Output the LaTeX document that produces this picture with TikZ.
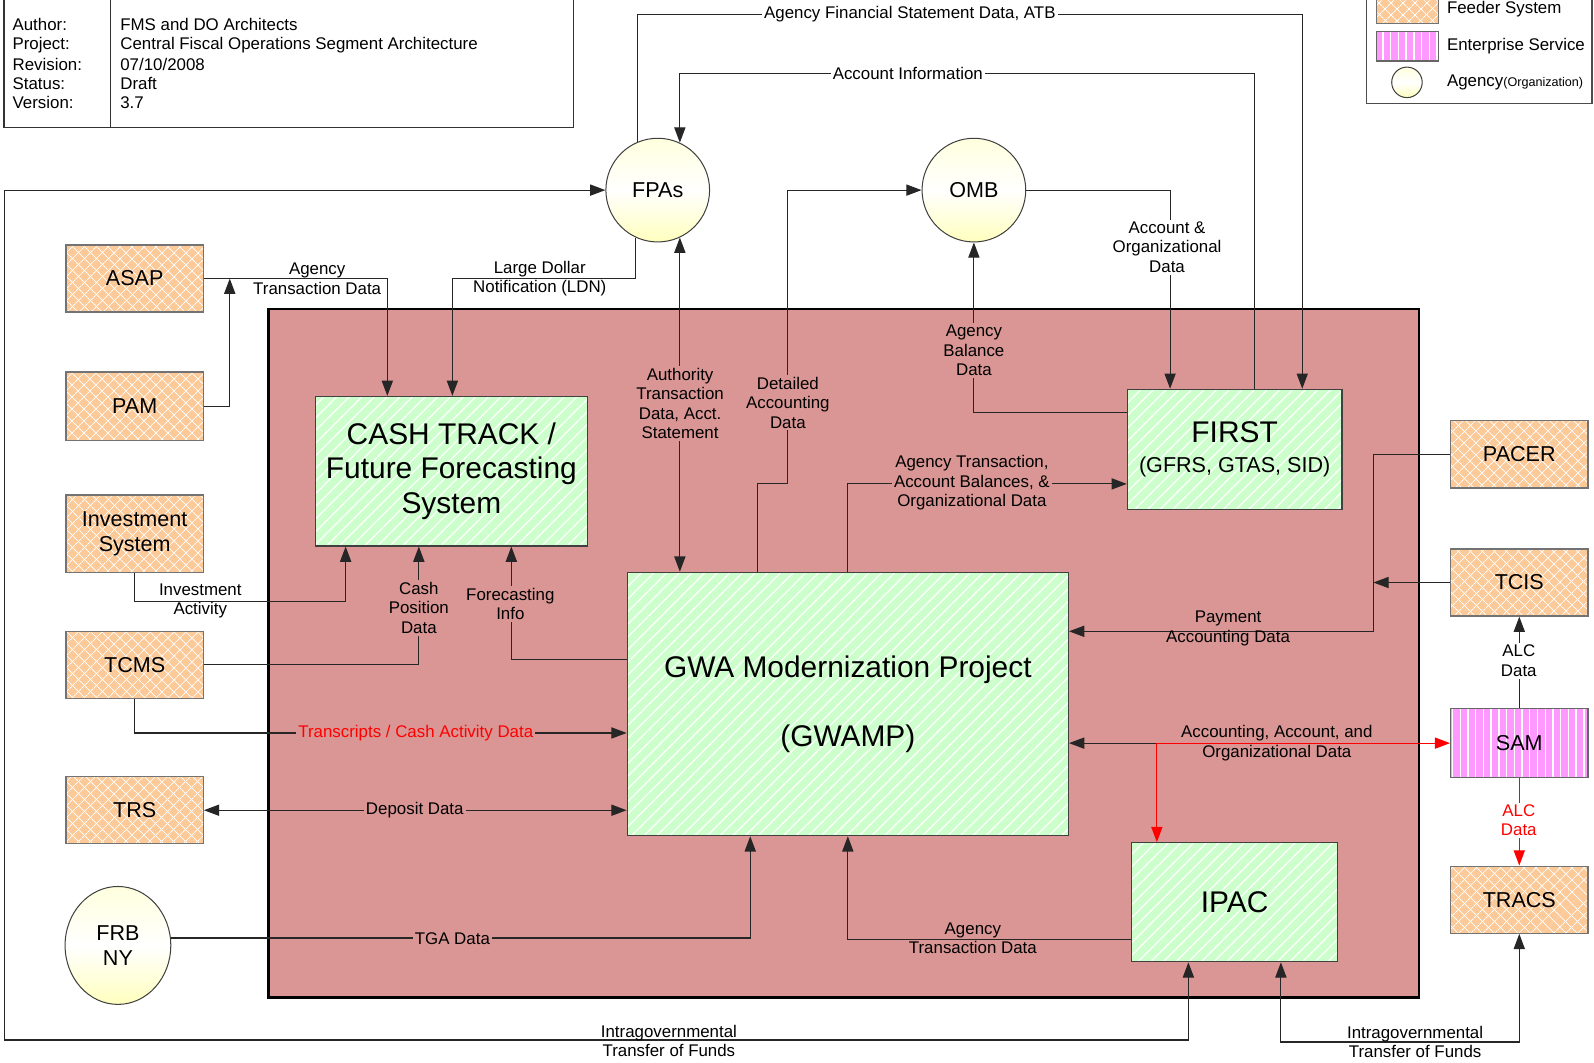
\documentclass[tikz,border=0pt]{standalone}
\usepackage{fontspec}
\setmainfont{Liberation Sans}
\usetikzlibrary{arrows.meta,patterns.meta,shapes.geometric,calc}

\definecolor{brownbg}{RGB}{217,150,148}
\definecolor{feederc}{RGB}{252,201,152}
\definecolor{greenc}{RGB}{204,255,204}
\definecolor{pinkc}{RGB}{255,153,255}
\definecolor{lred}{RGB}{255,0,0}

\newcommand\lblfont{\fontsize{8.3}{9.6}\selectfont}
\newcommand\sysfont{\fontsize{10.6}{12}\selectfont}
\newcommand\bigfont{\fontsize{14.7}{17}\selectfont}

\begin{document}
\begin{tikzpicture}[x=0.5pt,y=-0.5pt,
  >={Triangle[length=7.5pt,width=5.5pt]},
  conn/.style={draw=black!85,line width=0.55pt},
  redconn/.style={draw=lred,line width=0.55pt},
  feeder/.style={draw=black!55,line width=0.6pt,fill=feederc,
    postaction={pattern={Lines[angle=45,distance=4pt,line width=0.45pt]},pattern color=white},
    postaction={pattern={Lines[angle=-45,distance=4pt,line width=0.45pt]},pattern color=white},
    postaction={draw=black!55,line width=0.6pt},
    minimum width=67.5pt,minimum height=33pt,inner sep=0pt,font=\sysfont,align=center},
  ent/.style={draw=black!60,line width=0.6pt,fill=pinkc,
    postaction={pattern={Lines[angle=90,distance=3.8pt,line width=0.7pt]},pattern color=white},
    postaction={draw=black!60,line width=0.6pt},
    minimum width=67.5pt,minimum height=34pt,inner sep=0pt,font=\sysfont,align=center},
  gbox/.style={draw=black!75,line width=0.6pt,fill=greenc,
    postaction={pattern={Lines[angle=45,distance=4.4pt,line width=0.6pt]},pattern color=white},
    postaction={draw=black!75,line width=0.6pt},
    inner sep=0pt,font=\bigfont,align=center},
  agency/.style={circle,draw=black!75,line width=0.5pt,
    top color={rgb,255:red,255;green,255;blue,222},
    bottom color={rgb,255:red,255;green,255;blue,190},
    middle color=white,
    minimum size=51pt,inner sep=0pt,font=\sysfont,align=center},
  lbl/.style={font=\lblfont,align=center,inner sep=1pt},
  lblb/.style={lbl,fill=brownbg},
  lblw/.style={lbl,fill=white},
  tt/.style={font=\lblfont,inner sep=0pt,anchor=west}
]
\useasboundingbox (0,0) rectangle (1568,1045);

% title block
\node[draw=black!80,line width=0.6pt,minimum width=280pt,minimum height=63pt,inner sep=0pt] (titlebox) at (284,62.5) {};
\draw[black!80,line width=0.6pt] (titlebox.north -| 109,0) -- (titlebox.south -| 109,0);
\node[tt] (ta1) at (12,24) {Author:};
\node[tt] (ta2) at (12,44) {Project:};
\node[tt] (ta3) at (12,63) {Revision:};
\node[tt] (ta4) at (12,82) {Status:};
\node[tt] (ta5) at (12,101) {Version:};
\node[tt] (tb1) at (118,24) {FMS and DO Architects};
\node[tt] (tb2) at (118,44) {Central Fiscal Operations Segment Architecture};
\node[tt] (tb3) at (118,63) {07/10/2008};
\node[tt] (tb4) at (118,82) {Draft};
\node[tt] (tb5) at (118,101) {3.7};

% legend
\node[draw=black!70,line width=0.6pt,minimum width=111pt,minimum height=52pt,inner sep=0pt] (legend) at (1455,50) {};
\node[feeder,minimum width=30.5pt,minimum height=14pt] (legf) at (1384.5,9) {};
\node[ent,minimum width=30.5pt,minimum height=14.5pt] (lege) at (1384.5,45.5) {};
\node[agency,minimum size=15pt] (lega) at (1384,81) {};
\node[tt] (legft) at (1423,9) {Feeder System};
\node[tt] (leget) at (1423,45) {Enterprise Service};
\node[tt] (legat) at (1423,81) {Agency{\fontsize{6.2}{7}\selectfont(Organization)}};

% segment background
\node[draw=black,line width=1.3pt,fill=brownbg,minimum width=566pt,minimum height=338.5pt,inner sep=0pt] (segment) at (830,642.5) {};

% feeder systems
\node[feeder] (asap) at (132.5,274) {ASAP};
\node[feeder,minimum height=33.5pt] (pam) at (132.5,399.5) {PAM};
\node[feeder,minimum height=38pt] (invest) at (132.5,525) {Investment\\System};
\node[feeder] (tcms) at (132.5,654) {TCMS};
\node[feeder] (trs) at (132.5,797) {TRS};
\node[feeder] (pacer) at (1494.5,447) {PACER};
\node[feeder] (tcis) at (1494.5,573) {TCIS};
\node[ent] (sam) at (1494.5,731) {SAM};
\node[feeder] (tracs) at (1494.5,885) {TRACS};

% core systems
\node[gbox,minimum width=134pt,minimum height=73.5pt] (cash) at (444,463.5) {CASH TRACK /\\Future Forecasting\\System};
\node[gbox,minimum width=217pt,minimum height=129.5pt] (gwamp) at (834,692.5) {GWA Modernization Project\\[17pt](GWAMP)};
\node[gbox,minimum width=105.5pt,minimum height=59pt] (first) at (1214.5,442) {FIRST\\[-2.5pt]{\sysfont (GFRS, GTAS, SID)}};
\node[gbox,minimum width=101.5pt,minimum height=58.5pt] (ipac) at (1214.5,887.5) {IPAC};

% agencies
\node[agency] (fpas) at (647,187) {FPAs};
\node[agency] (omb) at (958,187) {OMB};
\node[agency,ellipse,minimum width=52pt,minimum height=58pt] (frb) at (116,930) {FRB\\NY};

% junction points
\coordinate (j1) at (226,274);
\coordinate (j2) at (1351,573);
\coordinate (j3) at (1138,731);

% connectors
\draw[conn,->] (asap.east) -| (cash.north -| 381,0);
\draw[conn,->] (pam.east) -| (j1);
\draw[conn,->] (fpas.-115) |- (445,274) -- (cash.north -| 445,0);
\draw[conn,<->] (fpas.-65) -- (gwamp.north -| fpas.-65);
\draw[conn,->] (gwamp.north -| 745,0) -- (745,476) -- (775,476) |- (omb.west);
\draw[conn,->] (gwamp.north -| 834,0) |- (first.west |- 0,476);
\draw[conn,->] (first.west |- 0,406) -| (omb.south);
\draw[conn,->] (omb.east) -| (first.north -| 1151,0);
\draw[conn,->] (fpas.113) |- (1281,14) -- (first.north -| 1281,0);
\draw[conn,->] (first.north -| 1234,0) |- (fpas.65 |- 0,72) -- (fpas.65);
\draw[conn,<->] (fpas.west) -- (4,187) -- (4,1023) -| (ipac.south -| 1169,0);
\draw[conn,<->] (ipac.south -| 1260,0) |- (tracs.south |- 0,1025) -- (tracs.south);
\draw[conn,->] (invest.south) |- (340,592) -- (cash.south -| 340,0);
\draw[conn,->] (tcms.east) -| (cash.south -| 412,0);
\draw[conn,->] (gwamp.west |- 0,649) -| (cash.south -| 503,0);
\draw[conn,->] (tcms.south) |- (gwamp.west |- 0,721);
\draw[conn,<->] (trs.east) -- (gwamp.west |- trs.east);
\draw[conn,->] (frb.8) -| (gwamp.south -| 738,0);
\draw[conn,->] (ipac.west |- 0,924) -| (gwamp.south);
\draw[conn,->] (pacer.west) -| (1351,621) -- (gwamp.east |- 0,621);
\draw[conn,->] (tcis.west) -- (j2);
\draw[conn,->] (sam.north) -- (tcis.south);
\draw[conn,->] (j3) -- (gwamp.east |- j3);
\draw[redconn,->] (j3) -- (sam.west |- j3);
\draw[redconn,->] (j3) -- (ipac.north -| j3);
\draw[redconn,->] (sam.south) -- (tracs.north);

% labels
\node[lbl] (l1) at (312,274) {Agency\\Transaction Data};
\node[lbl] (l2) at (531,274) {Large Dollar\\Notification (LDN)};
\node[lblb] (l3) at (669,397) {Authority\\Transaction\\Data, Acct.\\Statement};
\node[lblb] (l4) at (775,396) {Detailed\\Accounting\\Data};
\node[lblb] (l5) at (956,475) {Agency Transaction,\\Account Balances, \&\\Organizational Data};
\node[lblb] (l6) at (958,345) {Agency\\Balance\\Data};
\node[lblw] (l7) at (1148,243) {Account \&\\Organizational\\Data};
\node[lblw] (l8) at (895,14) {Agency Financial Statement Data, ATB};
\node[lblw] (l9) at (893,72) {Account Information};
\node[lbl] (l10) at (658,1024) {Intragovernmental\\Transfer of Funds};
\node[lbl] (l11) at (1392,1025) {Intragovernmental\\Transfer of Funds};
\node[lbl] (l12) at (197,591) {Investment\\Activity};
\node[lblb] (l13) at (412,598) {Cash\\Position\\Data};
\node[lblb] (l14) at (502,594) {Forecasting\\Info};
\node[lblb,text=lred] (l15) at (409,721) {Transcripts / Cash Activity Data};
\node[lblb] (l16) at (408,797) {Deposit Data};
\node[lblb] (l17) at (445,923) {TGA Data};
\node[lbl] (l18) at (957,923) {Agency\\Transaction Data};
\node[lbl] (l19) at (1208,618) {Payment\\Accounting Data};
\node[lblw] (l20) at (1494,650) {ALC\\Data};
\node[lbl] (l21) at (1256,731) {Accounting, Account, and\\Organizational Data};
\node[lblw,text=lred] (l22) at (1494,807) {ALC\\Data};
\end{tikzpicture}
\end{document}
